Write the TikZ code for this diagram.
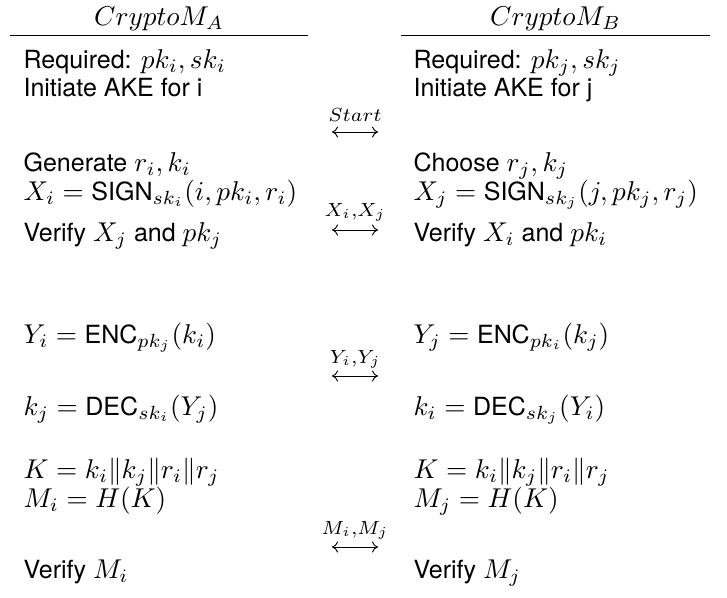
\documentclass[tikz,border=0pt]{standalone}
\usepackage{fontspec}
\setmainfont{TeX Gyre Heros}[Scale=0.92]
\usetikzlibrary{arrows.meta}
\begin{document}
\begin{tikzpicture}[x=1pt,y=-1pt,
  txt/.style={anchor=base west,inner sep=0pt,scale=2.72},
  hdr/.style={anchor=base,inner sep=0pt,scale=2.72},
  msg/.style={{Computer Modern Rightarrow[length=6pt,width=11pt]}-{Computer Modern Rightarrow[length=6pt,width=11pt]},line width=0.95pt},
  lbl/.style={anchor=base,inner sep=0pt,scale=2.72}]
\useasboundingbox (0,0) rectangle (727,597);
% headers
\node[hdr] (hA) at (159,25) {$CryptoM_A$};
\node[hdr] (hB) at (555.5,25) {$CryptoM_B$};
\draw[line width=0.95pt] (10,35) -- (308,35);
\draw[line width=0.95pt] (401,35) -- (710,35);
% left column
\node[txt] (a1) at (23,68) {Required: $pk_i, sk_i$};
\node[txt] (a2) at (23,96) {Initiate AKE for i};
\node[txt] (a3) at (23,171) {Generate $r_i, k_i$};
\node[txt] (a4) at (23,200) {$X_i = \mbox{SIGN}_{sk_i}(i, pk_i, r_i)$};
\node[txt] (a5) at (23,241) {Verify $X_j$ and $pk_j$};
\node[txt] (a6) at (23,343) {$Y_i = \mbox{ENC}_{pk_j}(k_i)$};
\node[txt] (a7) at (23,415) {$k_j = \mbox{DEC}_{sk_i}(Y_j)$};
\node[txt] (a8) at (23,478) {$K = k_i \| k_j \| r_i \| r_j$};
\node[txt] (a9) at (23,507) {$M_i = H(K)$};
\node[txt] (a10) at (23,578) {Verify $M_i$};
% right column
\node[txt] (b1) at (413,68) {Required: $pk_j, sk_j$};
\node[txt] (b2) at (413,96) {Initiate AKE for j};
\node[txt] (b3) at (413,171) {Choose $r_j, k_j$};
\node[txt] (b4) at (413,200) {$X_j = \mbox{SIGN}_{sk_j}(j, pk_j, r_j)$};
\node[txt] (b5) at (413,241) {Verify $X_i$ and $pk_i$};
\node[txt] (b6) at (413,343) {$Y_j = \mbox{ENC}_{pk_i}(k_j)$};
\node[txt] (b7) at (413,415) {$k_i = \mbox{DEC}_{sk_j}(Y_i)$};
\node[txt] (b8) at (413,478) {$K = k_i \| k_j \| r_i \| r_j$};
\node[txt] (b9) at (413,507) {$M_j = H(K)$};
\node[txt] (b10) at (413,578) {Verify $M_j$};
% messages
\coordinate (s1l) at (332,132); \coordinate (s1r) at (378,132);
\coordinate (s2l) at (332,230); \coordinate (s2r) at (378,230);
\coordinate (s3l) at (332,376); \coordinate (s3r) at (378,376);
\coordinate (s4l) at (332,547); \coordinate (s4r) at (378,547);
\node[lbl] (m1) at (355,121) {$\scriptstyle Start$};
\node[lbl] (m2) at (355,216) {$\scriptstyle X_i,X_j$};
\node[lbl] (m3) at (355,363) {$\scriptstyle Y_i,Y_j$};
\node[lbl] (m4) at (355,534) {$\scriptstyle M_i,M_j$};
\draw[msg] (s1l) -- (s1r);
\draw[msg] (s2l) -- (s2r);
\draw[msg] (s3l) -- (s3r);
\draw[msg] (s4l) -- (s4r);
\end{tikzpicture}
\end{document}
